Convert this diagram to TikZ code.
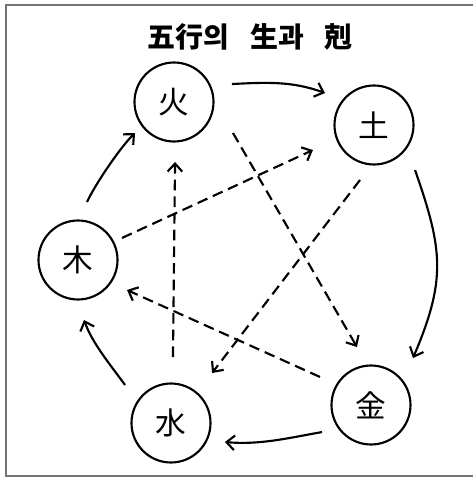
\documentclass[tikz,border=0pt]{standalone}
\usepackage{fontspec}
\newfontfamily\kr{Noto Sans CJK KR}
\usetikzlibrary{arrows.meta,calc}
\begin{document}
\begin{tikzpicture}[x=0.75pt,y=-0.75pt,
  elem/.style={circle,draw,line width=1.6pt,minimum size=59.25pt,inner sep=0pt,
    font=\kr\fontsize{23}{23}\selectfont},
  gen/.style={line width=1.6pt,-{Straight Barb[length=6pt,width=11pt]}},
  ctrl/.style={gen,dash pattern=on 8pt off 4.5pt},
  frame/.style={draw=black!55,line width=0.9pt}]
\useasboundingbox (0,0) rectangle (473,478);
\draw[frame] (473,5) -- (6,5) -- (6,476) -- (473,476);
\node[font=\kr\bfseries\fontsize{21}{21}\selectfont] (title) at (250,37)
  {五行의\hspace{0.75em}生과\hspace{0.75em}剋};
\node[elem] (huo)  at (174,102) {火};
\node[elem] (tu)   at (374,125) {土};
\node[elem] (jin)  at (371,405) {金};
\node[elem] (shui) at (171,423) {水};
\node[elem] (mu)   at (78,260)  {木};
% generating cycle
\draw[gen] ($(huo)+(-17.2:60.7)$) .. controls +(-3:35) and +(-160:35) .. ($(tu)+(-146.9:58.5)$);
\draw[gen] ($(tu)+(47.7:61)$) .. controls +(70.7:85) and +(-67:85) .. ($(jin)+(-48.2:63)$);
\draw[gen] ($(jin)+(151.1:56)$) .. controls +(170:35) and +(5:35) .. ($(shui)+(19.4:57.2)$);
\draw[gen] ($(shui)+(-140.4:59.7)$) .. controls +(-126:25) and +(70:25) .. ($(mu)+(84.3:60.3)$);
\draw[gen] ($(mu)+(-81.2:58.7)$) .. controls +(-65:20) and +(136:20) .. ($(huo)+(141.5:49.8)$);
% controlling cycle
\draw[ctrl] ($(huo)+(27.7:66.6)$) -- ($(jin)+(-103.6:59.7)$);
\draw[ctrl] ($(tu)+(104.3:56.8)$) -- ($(shui)+(-50.6:64.7)$);
\draw[ctrl] ($(shui)+(-88.3:66)$) -- ($(huo)+(89:60)$);
\draw[ctrl] ($(jin)+(-151.2:58.2)$) -- ($(mu)+(31.5:57.5)$);
\draw[ctrl] ($(mu)+(-26.6:49.2)$) -- ($(tu)+(157.7:66)$);
\end{tikzpicture}
\end{document}
